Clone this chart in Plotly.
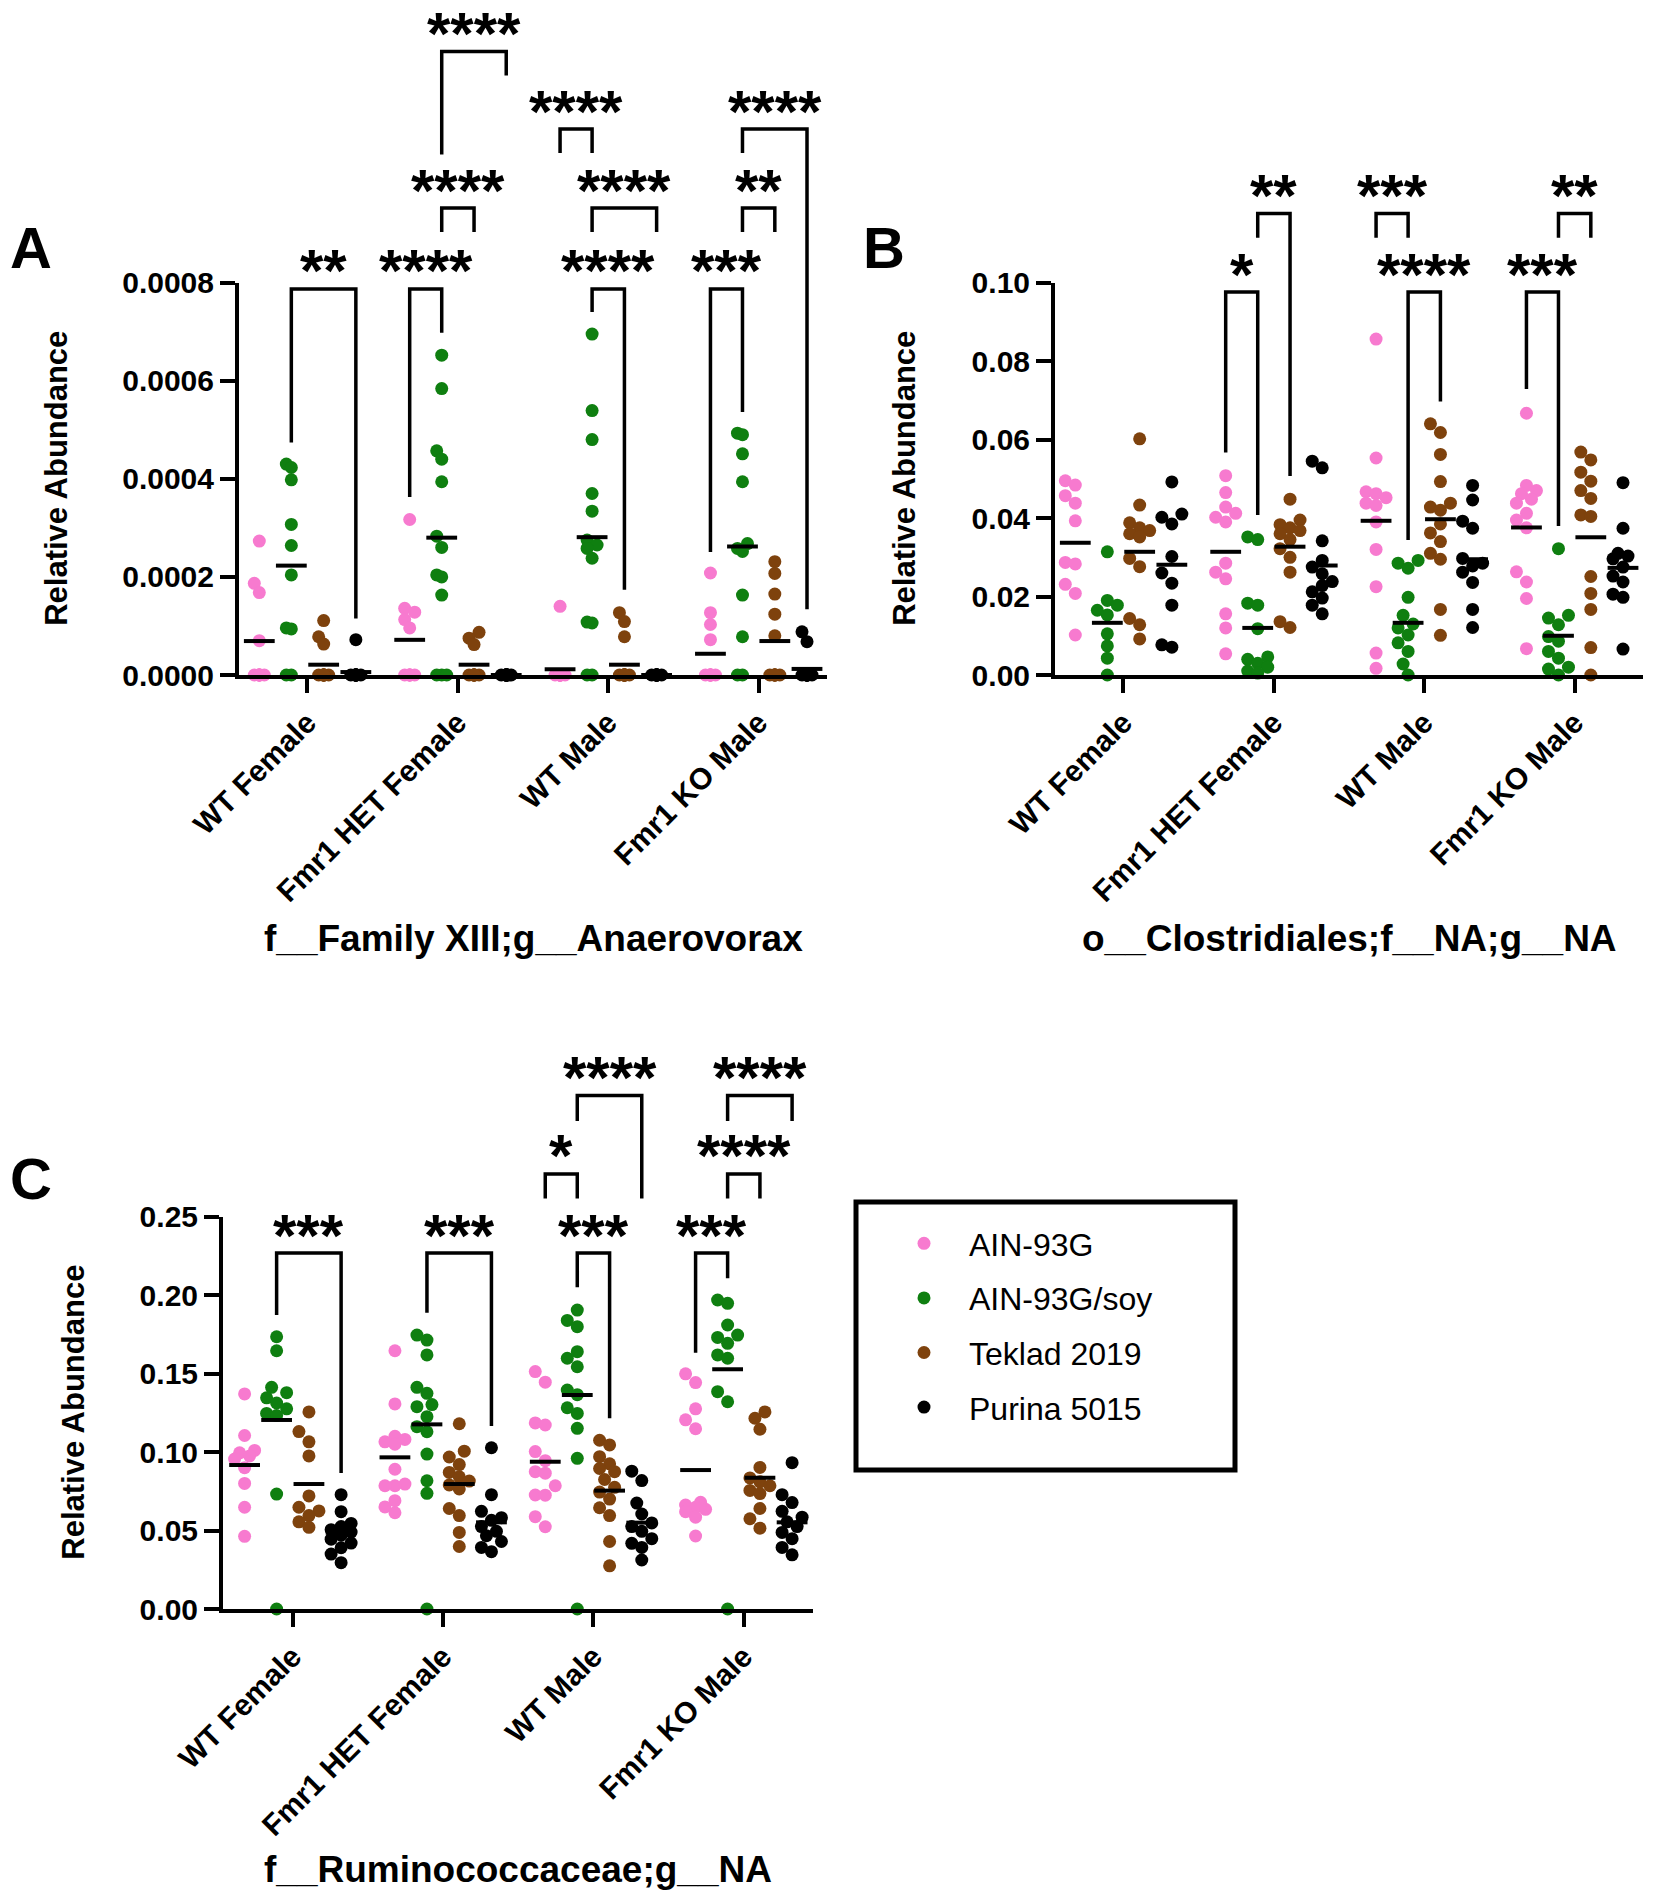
import plotly.graph_objects as go

W, H = 1654, 1901
FONT = "Liberation Sans"

categories = ["WT Female", "Fmr1 HET Female", "WT Male", "Fmr1 KO Male"]
diets = ["AIN-93G", "AIN-93G/soy", "Teklad 2019", "Purina 5015"]
diet_colors = ["#F77ACF", "#0F7F10", "#7E420D", "#000000"]

# ---------------- Panel A: f__Family XIII;g__Anaerovorax ----------------
a_ain93g = [
    [0.000273, 0.000187, 0.000168, 0.00007, 0, 0, 0, 0, 0, 0, 0],
    [0.000317, 0.000136, 0.000128, 0.000113, 0.000096, 0, 0, 0, 0, 0, 0],
    [0.00014, 0, 0, 0, 0, 0, 0, 0, 0, 0, 0, 0],
    [0.000208, 0.000127, 0.000103, 0.000072, 0, 0, 0, 0, 0, 0, 0, 0],
]
a_soy = [
    [0.00043, 0.000423, 0.000398, 0.000307, 0.000264, 0.000204, 0.000096, 0.000094, 0, 0],
    [0.000652, 0.000584, 0.000457, 0.00044, 0.000394, 0.000283, 0.00026, 0.000204, 0.0002, 0.000163, 0, 0, 0],
    [0.000695, 0.000539, 0.00048, 0.00037, 0.000334, 0.000275, 0.000265, 0.000258, 0.000238, 0.000108, 0.000106, 0, 0],
    [0.000493, 0.00049, 0.000451, 0.000394, 0.000268, 0.000258, 0.000252, 0.000163, 0.000078, 0, 0],
]
a_teklad = [
    [0.000111, 0.000078, 0.000063, 0, 0, 0, 0, 0, 0, 0, 0],
    [0.000087, 0.000075, 0.000062, 0, 0, 0, 0, 0, 0, 0, 0],
    [0.000127, 0.000109, 0.000078, 0, 0, 0, 0, 0, 0, 0, 0, 0, 0, 0],
    [0.000231, 0.000207, 0.000165, 0.000124, 0.00008, 0, 0, 0, 0, 0, 0, 0],
]
a_purina = [
    [0.000072, 0, 0, 0, 0, 0, 0, 0, 0, 0, 0, 0],
    [0, 0, 0, 0, 0, 0, 0, 0, 0, 0, 0],
    [0, 0, 0, 0, 0, 0, 0, 0, 0, 0, 0, 0],
    [0.000088, 0.000068, 0, 0, 0, 0, 0, 0, 0, 0, 0, 0],
]
a_means = [
    [0.0000692, 0.0000717, 0.0000117, 0.0000433],
    [0.000223, 0.00028, 0.000281, 0.000262],
    [0.000021, 0.000021, 0.000021, 0.0000692],
    [0.000006, 0.0, 0.0, 0.0000124],
]
# (category, group1, group2, label, level, leg1 bottom, leg2 bottom)
a_brackets = [
    (0, 1, 3, "**", 0.000787, 0.000474, 0.000115),
    (1, 0, 1, "****", 0.000787, 0.000363, 0.000698),
    (1, 1, 2, "****", 0.000952, 0.000903, 0.000903),
    (1, 1, 3, "****", 0.001271, 0.001061, 0.001222),
    (2, 0, 1, "****", 0.001113, 0.001064, 0.001064),
    (2, 1, 3, "****", 0.000952, 0.000903, 0.000903),
    (2, 1, 2, "****", 0.000787, 0.00074, 0.000174),
    (3, 0, 1, "***", 0.000787, 0.000251, 0.000536),
    (3, 1, 2, "**", 0.000952, 0.000903, 0.000903),
    (3, 1, 3, "****", 0.001113, 0.001064, 0.000134),
]

# ---------------- Panel B: o__Clostridiales;f__NA;g__NA ----------------
b_ain93g = [
    [0.0495, 0.0484, 0.0457, 0.0438, 0.0393, 0.0287, 0.0283, 0.0231, 0.0208, 0.0102],
    [0.0508, 0.0465, 0.0428, 0.0412, 0.0402, 0.039, 0.0285, 0.0262, 0.0245, 0.0156, 0.012, 0.0054],
    [0.0856, 0.0553, 0.0467, 0.0462, 0.0452, 0.0438, 0.0432, 0.039, 0.032, 0.0225, 0.0056, 0.0017],
    [0.0667, 0.0483, 0.047, 0.0462, 0.0448, 0.0438, 0.0412, 0.0395, 0.0375, 0.0263, 0.0237, 0.0195, 0.0067],
]
b_soy = [
    [0.0314, 0.019, 0.0178, 0.0165, 0.0153, 0.0105, 0.0074, 0.0043, 0.0],
    [0.0352, 0.0345, 0.0183, 0.0178, 0.0118, 0.0046, 0.004, 0.003, 0.002, 0.001, 0.0005],
    [0.0292, 0.0285, 0.0272, 0.0198, 0.0152, 0.013, 0.012, 0.0102, 0.0082, 0.006, 0.0028, 0.0],
    [0.0322, 0.0152, 0.0145, 0.0128, 0.0098, 0.0086, 0.006, 0.0043, 0.002, 0.0015, 0.0],
]
b_teklad = [
    [0.0602, 0.0433, 0.0388, 0.0375, 0.0368, 0.036, 0.0352, 0.0297, 0.0276, 0.0144, 0.0128, 0.0092],
    [0.0448, 0.0395, 0.0383, 0.0375, 0.0368, 0.036, 0.0345, 0.0322, 0.03, 0.0262, 0.0136, 0.0121],
    [0.064, 0.0618, 0.0562, 0.0493, 0.0438, 0.0428, 0.042, 0.0385, 0.0362, 0.034, 0.031, 0.0295, 0.0167, 0.0101],
    [0.0568, 0.0548, 0.0517, 0.0494, 0.047, 0.045, 0.0408, 0.0404, 0.0251, 0.0208, 0.0167, 0.007, 0.0],
]
b_purina = [
    [0.0492, 0.041, 0.0402, 0.0385, 0.0302, 0.026, 0.0234, 0.0178, 0.0077, 0.0071],
    [0.0545, 0.0528, 0.0342, 0.0292, 0.0275, 0.0258, 0.0238, 0.0228, 0.0212, 0.0196, 0.0178, 0.0156],
    [0.0483, 0.0446, 0.0392, 0.0374, 0.0297, 0.0285, 0.0278, 0.0262, 0.0236, 0.0167, 0.0121],
    [0.049, 0.0374, 0.031, 0.0303, 0.0296, 0.0275, 0.0252, 0.0237, 0.0206, 0.0198, 0.0066],
]
b_means = [
    [0.0337, 0.0314, 0.0393, 0.0376],
    [0.0133, 0.012, 0.0133, 0.010],
    [0.0314, 0.0327, 0.0397, 0.0351],
    [0.0281, 0.0279, 0.0295, 0.0273],
]
b_brackets = [
    (1, 0, 1, "*", 0.0976, 0.0567, 0.0408),
    (1, 1, 2, "**", 0.1176, 0.1114, 0.0507),
    (2, 0, 1, "***", 0.1176, 0.1114, 0.1114),
    (2, 1, 2, "****", 0.0976, 0.0344, 0.0697),
    (3, 0, 1, "***", 0.0976, 0.0729, 0.038),
    (3, 1, 2, "**", 0.1176, 0.1114, 0.1114),
]

# ---------------- Panel C: f__Ruminococcaceae;g__NA ----------------
c_ain93g = [
    [0.137, 0.1105, 0.101, 0.0995, 0.0975, 0.0955, 0.09, 0.08, 0.0648, 0.0463],
    [0.1645, 0.1306, 0.11, 0.108, 0.1065, 0.105, 0.089, 0.0796, 0.0785, 0.0785, 0.069, 0.065, 0.0613],
    [0.1512, 0.1445, 0.1185, 0.1172, 0.1003, 0.0945, 0.0875, 0.0865, 0.0785, 0.0726, 0.0725, 0.0588, 0.0524],
    [0.1498, 0.1442, 0.1275, 0.1205, 0.1148, 0.068, 0.0662, 0.0648, 0.0635, 0.062, 0.0585, 0.0465],
]
c_soy = [
    [0.1734, 0.1645, 0.1412, 0.1378, 0.1345, 0.1312, 0.1275, 0.1246, 0.1232, 0.0732, 0.0],
    [0.1745, 0.1713, 0.1618, 0.1412, 0.1374, 0.1302, 0.1289, 0.1225, 0.1161, 0.1129, 0.0987, 0.0817, 0.0737, 0.0],
    [0.1904, 0.1838, 0.1798, 0.1639, 0.1597, 0.1543, 0.1395, 0.1365, 0.1282, 0.1246, 0.1151, 0.096, 0.0],
    [0.1968, 0.1947, 0.1809, 0.1745, 0.173, 0.1692, 0.1618, 0.1597, 0.1384, 0.132, 0.0],
]
c_teklad = [
    [0.1255, 0.113, 0.1065, 0.0975, 0.072, 0.0648, 0.0625, 0.0595, 0.0555, 0.052],
    [0.118, 0.1005, 0.0968, 0.092, 0.087, 0.0842, 0.0815, 0.079, 0.0765, 0.064, 0.0595, 0.0488, 0.0398],
    [0.1075, 0.1045, 0.097, 0.0925, 0.0895, 0.0875, 0.0825, 0.0775, 0.0745, 0.07, 0.0645, 0.0595, 0.043, 0.0275],
    [0.1255, 0.1215, 0.1145, 0.0902, 0.0835, 0.081, 0.0785, 0.0755, 0.0735, 0.064, 0.0575, 0.0515],
]
c_purina = [
    [0.0728, 0.062, 0.0545, 0.0525, 0.0505, 0.049, 0.047, 0.0445, 0.042, 0.039, 0.035, 0.0295],
    [0.1027, 0.0728, 0.0622, 0.0582, 0.0565, 0.0525, 0.0495, 0.0467, 0.043, 0.0392, 0.0365],
    [0.0878, 0.0818, 0.0675, 0.0605, 0.0548, 0.0525, 0.0495, 0.0448, 0.0418, 0.0392, 0.0312],
    [0.0932, 0.0728, 0.0678, 0.0622, 0.0585, 0.0555, 0.0525, 0.0488, 0.0448, 0.0392, 0.0345],
]
c_means = [
    [0.0917, 0.0966, 0.0938, 0.0885],
    [0.1204, 0.1176, 0.1363, 0.1527],
    [0.0796, 0.0796, 0.0754, 0.0836],
    [0.0486, 0.0552, 0.055, 0.0552],
]
c_brackets = [
    (0, 1, 3, "***", 0.2267, 0.1873, 0.0866),
    (1, 1, 3, "***", 0.2267, 0.1887, 0.1166),
    (2, 1, 2, "***", 0.2267, 0.2049, 0.1215),
    (2, 0, 1, "*", 0.2771, 0.2614, 0.2614),
    (2, 1, 3, "****", 0.327, 0.3108, 0.2614),
    (3, 0, 1, "***", 0.2267, 0.1632, 0.2106),
    (3, 1, 2, "****", 0.2771, 0.2614, 0.2614),
    (3, 1, 3, "****", 0.327, 0.3108, 0.3108),
]

a_ticks = [0, 0.0002, 0.0004, 0.0006, 0.0008]
b_ticks = [0, 0.02, 0.04, 0.06, 0.08, 0.10]
c_ticks = [0, 0.05, 0.10, 0.15, 0.20, 0.25]

# ---------------- layout geometry (pixels of the 1654x1901 page) ----------------
group_offsets = [-0.32, -0.107, 0.108, 0.322]

panels = [
    dict(letter="A", title="f__Family XIII;g__Anaerovorax",
         series=[a_ain93g, a_soy, a_teklad, a_purina], means=a_means, brackets=a_brackets,
         ticks=a_ticks, fmt=".4f", ymax=0.0008,
         x0=239, x1=827, pad=0.455, y0=675, yt=282.6, ovtop=0,
         letter_xy=(31, 247), ytitle_x=57, sub_y=938, spread=5),
    dict(letter="B", title="o__Clostridiales;f__NA;g__NA",
         series=[b_ain93g, b_soy, b_teklad, b_purina], means=b_means, brackets=b_brackets,
         ticks=b_ticks, fmt=".2f", ymax=0.10,
         x0=1055, x1=1643, pad=0.455, y0=675, yt=282.6, ovtop=0,
         letter_xy=(884, 247), ytitle_x=905, sub_y=938, spread=10),
    dict(letter="C", title="f__Ruminococcaceae;g__NA",
         series=[c_ain93g, c_soy, c_teklad, c_purina], means=c_means, brackets=c_brackets,
         ticks=c_ticks, fmt=".2f", ymax=0.25,
         x0=223, x1=813.4, pad=0.4637, y0=1609, yt=1216.5, ovtop=1020,
         letter_xy=(31, 1178), ytitle_x=74, sub_y=1869, spread=10),
]

DOT = 13


def swarm(vals, ppy, ppx, spread, d=DOT):
    step = 5.0
    cands = [0.0]
    k = 1
    while k * step <= spread + 1e-9:
        cands += [-k * step, k * step]
        k += 1
    order = sorted(range(len(vals)), key=lambda i: vals[i])
    placed = []
    offs = [0.0] * len(vals)
    for i in order:
        y = vals[i] * ppy
        chosen = None
        best_c, best_gap = 0.0, -1.0
        for c in cands:
            gap = min([((c - px) ** 2 + (y - py) ** 2) ** 0.5 for px, py in placed], default=1e9)
            if gap >= d * 0.9:
                chosen = c
                break
            if gap > best_gap:
                best_gap, best_c = gap, c
        if chosen is None:
            chosen = best_c
        placed.append((chosen, y))
        offs[i] = chosen / ppx
    return offs


fig = go.Figure()
layout = dict(width=W, height=H, margin=dict(l=0, r=0, t=0, b=0), autosize=False,
              paper_bgcolor="white", plot_bgcolor="rgba(0,0,0,0)")
shapes = []
annotations = []

for pi, p in enumerate(panels):
    xid = "x" if pi == 0 else f"x{pi+1}"
    yid = "y" if pi == 0 else f"y{pi+1}"
    oxid, oyid = f"x{pi+4}", f"y{pi+4}"
    xr = [-p["pad"], 3 + p["pad"]]
    ppx = (p["x1"] - p["x0"]) / (xr[1] - xr[0])
    ppy = (p["y0"] - p["yt"]) / p["ymax"]
    xdom = [p["x0"] / W, p["x1"] / W]
    ydom = [1 - p["y0"] / H, 1 - p["yt"] / H]
    ovdom = [1 - p["y0"] / H, 1 - p["ovtop"] / H]
    ovmax = (p["y0"] - p["ovtop"]) / ppy

    tickfont = dict(family=FONT, size=30, color="black", weight="bold")
    layout["xaxis" if pi == 0 else f"xaxis{pi+1}"] = dict(
        domain=xdom, range=xr, anchor=yid, tickvals=[0, 1, 2, 3], ticktext=categories,
        tickangle=-45, ticks="outside", ticklen=14, tickwidth=4, tickcolor="black",
        showline=True, linewidth=4, linecolor="black", showgrid=False, zeroline=False,
        tickfont=tickfont, fixedrange=True, automargin=False)
    layout["yaxis" if pi == 0 else f"yaxis{pi+1}"] = dict(
        domain=ydom, range=[0, p["ymax"]], anchor=xid, tickvals=p["ticks"], tickformat=p["fmt"],
        ticks="outside", ticklen=15, tickwidth=4, tickcolor="black",
        showline=True, linewidth=4, linecolor="black", showgrid=False, zeroline=False,
        tickfont=tickfont, fixedrange=True, automargin=False)
    layout[f"xaxis{pi+4}"] = dict(domain=xdom, range=xr, anchor=oyid, visible=False,
                                  fixedrange=True, automargin=False)
    layout[f"yaxis{pi+4}"] = dict(domain=ovdom, range=[0, ovmax], anchor=oxid, visible=False,
                                  fixedrange=True, automargin=False)

    # dots
    for g, ser in enumerate(p["series"]):
        xs, ys = [], []
        for c, vals in enumerate(ser):
            offs = swarm(vals, ppy, ppx, p["spread"])
            xs += [c + group_offsets[g] + o for o in offs]
            ys += list(vals)
        fig.add_trace(go.Scatter(
            x=xs, y=ys, xaxis=xid, yaxis=yid, mode="markers", name=diets[g],
            legendgroup=diets[g], showlegend=(pi == 0), cliponaxis=False,
            marker=dict(size=DOT, color=diet_colors[g], line=dict(width=0)),
            hoverinfo="y"))
    # mean lines
    for g in range(4):
        fig.add_trace(go.Scatter(
            x=[c + group_offsets[g] for c in range(4)], y=p["means"][g], xaxis=xid, yaxis=yid,
            mode="markers", showlegend=False, cliponaxis=False, hoverinfo="skip",
            marker=dict(symbol="line-ew", size=22, line=dict(width=4, color="black"))))

    # brackets
    for (c, g1, g2, lab, lvl, b1, b2) in p["brackets"]:
        xa = c + group_offsets[g1]
        xb = c + group_offsets[g2]
        shapes.append(dict(type="path", xref=oxid, yref=oyid,
                           path=f"M {xa},{b1} L {xa},{lvl} L {xb},{lvl} L {xb},{b2}",
                           line=dict(color="black", width=3.5)))
        annotations.append(dict(x=(xa + xb) / 2, y=lvl, xref=oxid, yref=oyid, text=lab,
                                showarrow=False, xanchor="center", yanchor="middle", yshift=18,
                                font=dict(family=FONT, size=60, color="black", weight="bold")))

    # panel letter
    annotations.append(dict(x=p["letter_xy"][0] / W, y=1 - p["letter_xy"][1] / H, xref="paper", yref="paper",
                            text=p["letter"], showarrow=False, xanchor="center", yanchor="middle",
                            font=dict(family=FONT, size=58, color="black", weight="bold")))
    # y title
    annotations.append(dict(x=p["ytitle_x"] / W, y=(ydom[0] + ydom[1]) / 2, xref="paper", yref="paper",
                            text="Relative Abundance", textangle=-90, showarrow=False,
                            xanchor="center", yanchor="middle",
                            font=dict(family=FONT, size=31, color="black", weight="bold")))
    # subtitle
    annotations.append(dict(x=(xdom[0] + xdom[1]) / 2, y=1 - p["sub_y"] / H, xref="paper", yref="paper",
                            text=p["title"], showarrow=False, xanchor="center", yanchor="middle",
                            font=dict(family=FONT, size=37, color="black", weight="bold")))

# legend box
shapes.append(dict(type="rect", xref="paper", yref="paper", x0=856 / W, x1=1235 / W,
                   y0=1 - 1470 / H, y1=1 - 1202 / H, line=dict(color="black", width=5)))

layout["shapes"] = shapes
layout["annotations"] = annotations
layout["showlegend"] = True
layout["legend"] = dict(x=879 / W, y=1 - 1216 / H, xanchor="left", yanchor="top",
                        font=dict(family=FONT, size=32, color="black"),
                        itemwidth=80, tracegroupgap=10, bgcolor="rgba(0,0,0,0)", borderwidth=0)
fig.update_layout(**layout)
fig.write_html("out.html", config={"displayModeBar": False, "staticPlot": True},
               post_script="document.body.style.margin='0';document.body.style.overflow='hidden';")
